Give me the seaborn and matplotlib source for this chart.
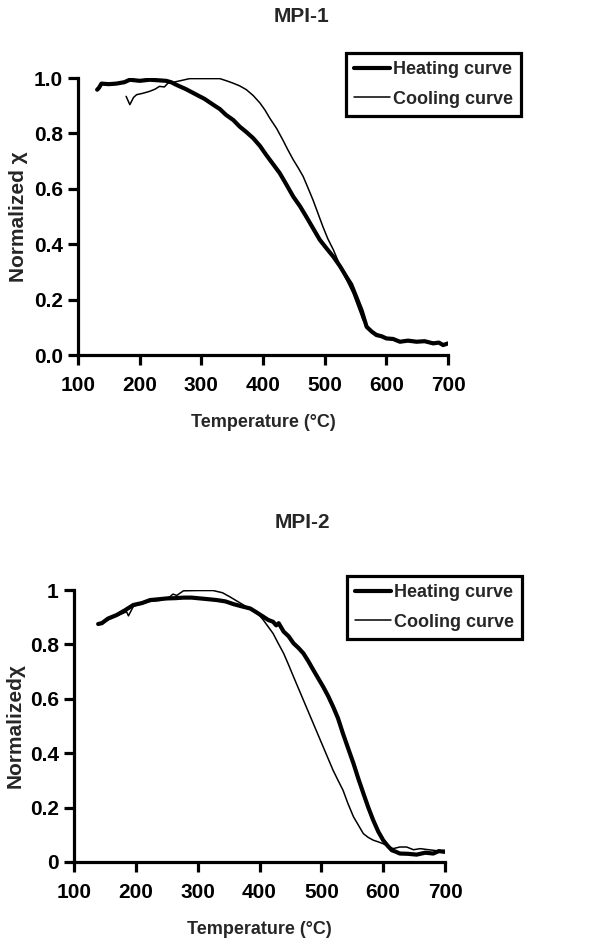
import matplotlib
matplotlib.use('Agg')
import matplotlib.pyplot as plt
import seaborn as sns
from matplotlib.ticker import FuncFormatter

# MPI-1 heating / cooling (temperature in degC, normalized susceptibility)
mpi1_heat_t = [131, 134, 138, 150, 162, 175, 184, 200, 216, 230, 243, 251, 259, 275, 292, 305, 319, 330,
               340, 352, 362, 373, 384, 395, 405, 416, 427, 438, 449, 460, 470, 481, 492, 503, 514, 525,
               535, 543, 551, 560, 568, 576, 584, 592, 600, 611, 622, 635, 649, 662, 676, 685, 692, 700]
mpi1_heat_chi = [0.958, 0.965, 0.98, 0.978, 0.98, 0.985, 0.994, 0.99, 0.994, 0.992, 0.99, 0.985, 0.976,
                 0.96, 0.94, 0.925, 0.904, 0.888, 0.867, 0.848, 0.825, 0.805, 0.783, 0.755, 0.723, 0.69,
                 0.657, 0.615, 0.572, 0.537, 0.5, 0.458, 0.416, 0.385, 0.355, 0.32, 0.283, 0.255, 0.211,
                 0.16, 0.102, 0.085, 0.072, 0.068, 0.06, 0.058, 0.048, 0.052, 0.048, 0.05, 0.042, 0.045,
                 0.036, 0.042]
mpi1_cool_t = [178, 184, 190, 195, 205, 216, 225, 232, 240, 246, 255, 265, 281, 300, 315, 330, 341, 351,
               362, 373, 384, 395, 403, 411, 422, 432, 440, 449, 457, 465, 473, 481, 489, 497, 505, 514,
               522, 530, 538, 546, 554, 562, 568, 573, 581, 589, 600, 611, 625, 649, 662, 676, 688, 697]
mpi1_cool_chi = [0.934, 0.904, 0.93, 0.94, 0.945, 0.952, 0.96, 0.97, 0.968, 0.982, 0.985, 0.99, 0.998,
                 0.998, 0.998, 0.998, 0.99, 0.982, 0.972, 0.958, 0.937, 0.91, 0.885, 0.855, 0.818, 0.777,
                 0.742, 0.705, 0.676, 0.645, 0.603, 0.56, 0.512, 0.464, 0.42, 0.38, 0.338, 0.295, 0.26,
                 0.223, 0.175, 0.127, 0.105, 0.09, 0.08, 0.072, 0.062, 0.054, 0.05, 0.048, 0.05, 0.046,
                 0.042, 0.036]

# MPI-2
mpi2_heat_t = [139, 145, 155, 169, 182, 196, 210, 223, 237, 250, 264, 277, 290, 304, 318, 331, 345, 358,
               371, 385, 395, 406, 414, 422, 427, 431, 439, 447, 455, 463, 471, 479, 487, 495, 503, 511,
               519, 527, 535, 543, 552, 560, 568, 576, 584, 592, 600, 607, 614, 620, 627, 640, 654, 668,
               681, 690, 700]
mpi2_heat_chi = [0.875, 0.878, 0.895, 0.908, 0.925, 0.945, 0.952, 0.963, 0.966, 0.969, 0.97, 0.972, 0.972,
                 0.969, 0.966, 0.963, 0.958, 0.948, 0.94, 0.932, 0.918, 0.902, 0.89, 0.883, 0.87, 0.878,
                 0.847, 0.83, 0.804, 0.787, 0.767, 0.738, 0.706, 0.675, 0.644, 0.61, 0.571, 0.528, 0.472,
                 0.42, 0.362, 0.305, 0.252, 0.2, 0.153, 0.112, 0.08, 0.06, 0.043, 0.038, 0.031, 0.03,
                 0.027, 0.034, 0.031, 0.04, 0.037]
mpi2_cool_t = [139, 150, 169, 185, 188, 196, 210, 223, 240, 255, 260, 266, 277, 300, 325, 340, 352, 363,
               374, 385, 395, 406, 414, 422, 430, 439, 447, 455, 463, 471, 479, 487, 495, 503, 511, 519,
               527, 535, 543, 552, 560, 568, 576, 584, 592, 600, 608, 616, 627, 638, 649, 660, 670, 681,
               690, 700]
mpi2_cool_chi = [0.875, 0.885, 0.905, 0.92, 0.905, 0.94, 0.95, 0.958, 0.962, 0.975, 0.985, 0.98, 0.997,
                 0.998, 0.998, 0.99, 0.975, 0.96, 0.945, 0.93, 0.92, 0.89, 0.865, 0.84, 0.805, 0.767,
                 0.725, 0.681, 0.638, 0.595, 0.552, 0.509, 0.466, 0.423, 0.38, 0.337, 0.3, 0.264, 0.215,
                 0.166, 0.135, 0.104, 0.09, 0.08, 0.074, 0.067, 0.058, 0.049, 0.055, 0.055, 0.045, 0.049,
                 0.046, 0.043, 0.04, 0.043]

x_ticks = [100, 200, 300, 400, 500, 600, 700]
y_ticks = [0.0, 0.2, 0.4, 0.6, 0.8, 1.0]

sns.set_style('ticks')
plt.rcParams['font.family'] = ['Liberation Sans', 'DejaVu Sans']
plt.rcParams['font.weight'] = 'bold'
plt.rcParams['axes.labelweight'] = 'bold'

fig = plt.figure(figsize=(5.97, 9.44), dpi=100)
ax1 = fig.add_axes([0.1307, 0.6239, 0.6198, 0.2934])
ax2 = fig.add_axes([0.124, 0.0869, 0.6214, 0.2881])


def draw(ax, heat_t, heat_chi, cool_t, cool_chi, ylabel, fmt, legend_anchor):
    sns.lineplot(x=heat_t, y=heat_chi, ax=ax, color='black', linewidth=3.0,
                 sort=False, estimator=None, label='Heating curve')
    sns.lineplot(x=cool_t, y=cool_chi, ax=ax, color='black', linewidth=1.1,
                 sort=False, estimator=None, label='Cooling curve')
    ax.set_xlim(100, 700)
    ax.set_ylim(0, 1)
    ax.set_xticks(x_ticks)
    ax.set_yticks(y_ticks)
    ax.yaxis.set_major_formatter(FuncFormatter(fmt))
    sns.despine(ax=ax)
    for side in ['left', 'bottom']:
        ax.spines[side].set_linewidth(2.3)
        ax.spines[side].set_color('black')
    ax.tick_params(axis='both', direction='out', length=7, width=2.3, colors='black',
                   labelsize=15)
    ax.tick_params(axis='x', pad=8)
    ax.tick_params(axis='y', pad=4)
    ax.set_xlabel('Temperature (°C)', fontsize=13, labelpad=14)
    ax.set_ylabel(ylabel, fontsize=15, labelpad=4)

    # legend box sits past the right end of the axes
    leg = ax.legend(loc='upper right', bbox_to_anchor=legend_anchor, bbox_transform=fig.transFigure,
                    frameon=True, fancybox=False, framealpha=1, edgecolor='black',
                    fontsize=13, handlelength=2.0, handletextpad=0.15, borderpad=0.45,
                    labelspacing=0.7, borderaxespad=0)
    leg.get_frame().set_linewidth(2.3)


draw(ax1, mpi1_heat_t, mpi1_heat_chi, mpi1_cool_t, mpi1_cool_chi,
     'Normalized χ', lambda v, p: f'{v:.1f}', (0.873, 0.944))
draw(ax2, mpi2_heat_t, mpi2_heat_chi, mpi2_cool_t, mpi2_cool_chi,
     'Normalizedχ', lambda v, p: f'{v:g}', (0.874, 0.39))

fig.text(0.505, 0.982, 'MPI-1', ha='center', va='center', fontsize=15, fontweight='bold')
fig.text(0.507, 0.447, 'MPI-2', ha='center', va='center', fontsize=15, fontweight='bold')

fig.savefig('out.png', dpi=100, facecolor='white')
